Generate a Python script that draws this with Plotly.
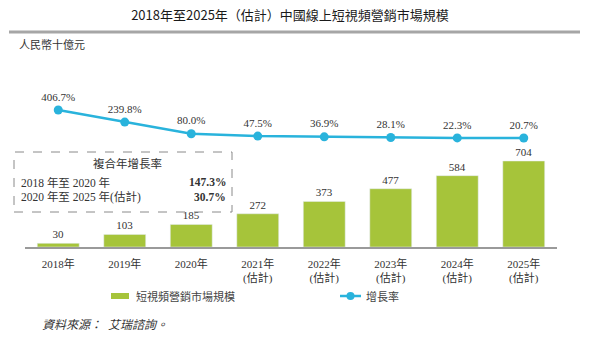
import plotly.graph_objects as go

categories = ["2018年", "2019年", "2020年", "2021年<br>(估計)", "2022年<br>(估計)",
              "2023年<br>(估計)", "2024年<br>(估計)", "2025年<br>(估計)"]
market_size = [30, 103, 185, 272, 373, 477, 584, 704]
growth_rate = [406.7, 239.8, 80.0, 47.5, 36.9, 28.1, 22.3, 20.7]
growth_labels = ["406.7%", "239.8%", "80.0%", "47.5%", "36.9%", "28.1%", "22.3%", "20.7%"]

GREEN = "#a6c43a"
BLUE = "#29b3dc"
TXT = "#333333"
SERIF = "Liberation Serif, Noto Sans CJK TC, serif"
SANS = "Noto Sans CJK TC, Liberation Sans, sans-serif"

W, H = 590, 340
L, R, T, B = 25, 33, 60, 93
PW, PH = W - L - R, H - T - B
def px(x): return (x - L) / PW
def py(y): return (H - B - y) / PH

fig = go.Figure()
fig.add_trace(go.Bar(
    x=categories, y=market_size, marker_color=GREEN, width=0.63,
    text=[str(v) for v in market_size], textposition="outside",
    textfont=dict(family=SERIF, size=11, color=TXT), cliponaxis=False,
    showlegend=False, name="短視頻營銷市場規模"))
fig.add_trace(go.Scatter(
    x=categories, y=growth_rate, yaxis="y2", mode="lines+markers+text",
    line=dict(color=BLUE, width=2.5), marker=dict(color=BLUE, size=9),
    text=growth_labels, textposition="top center",
    textfont=dict(family=SERIF, size=11, color=TXT), cliponaxis=False,
    showlegend=False, name="增長率"))

# scales
bar_top = 704 * PH / 86.0
pct_per_px = 1 / 0.0725
zero_px = 107.5
fig.update_layout(
    width=W, height=H, margin=dict(l=L, r=R, t=T, b=B),
    paper_bgcolor="white", plot_bgcolor="white",
    bargap=0.37,
    xaxis=dict(showgrid=False, showline=True, linecolor="#9a9a9a", linewidth=1.5,
               ticks="", ticklabelstandoff=6,
               tickfont=dict(family=SERIF, size=11, color=TXT)),
    yaxis=dict(range=[0, bar_top], visible=False),
    yaxis2=dict(range=[-zero_px * pct_per_px, (PH - zero_px) * pct_per_px],
                overlaying="y", visible=False),
    title=dict(text="2018年至2025年（估計）中國線上短視頻營銷市場規模",
               x=(290 - L) / PW, xref="paper", xanchor="center", y=1 - 15 / H, yanchor="middle",
               font=dict(family=SANS, size=13, color="#1a1a1a")),
)

shapes = [
    dict(type="line", xref="paper", yref="paper", x0=px(9), x1=px(580), y0=py(32), y1=py(32),
         line=dict(color="#a6a6a6", width=3)),
    dict(type="rect", xref="paper", yref="paper", x0=px(14), x1=px(232), y0=py(212), y1=py(152),
         line=dict(color="#8a8a8a", width=1, dash="dash"), fillcolor="rgba(0,0,0,0)"),
    dict(type="rect", xref="paper", yref="paper", x0=px(111), x1=px(129), y0=py(299), y1=py(293),
         line=dict(width=0), fillcolor=GREEN),
    dict(type="line", xref="paper", yref="paper", x0=px(340), x1=px(361), y0=py(296), y1=py(296),
         line=dict(color=BLUE, width=2.5)),
    dict(type="circle", xref="paper", yref="paper", x0=px(346.5), x1=px(354.5), y0=py(300), y1=py(292),
         line=dict(width=0), fillcolor=BLUE),
]
fig.update_layout(shapes=shapes)

ann = [
    dict(text="人民幣十億元", x=px(17), y=py(45), xanchor="left", yanchor="middle",
         font=dict(family=SERIF, size=11, color=TXT)),
    dict(text="複合年增長率", x=px(127), y=py(163), xanchor="center", yanchor="middle",
         font=dict(family=SERIF, size=11.5, color=TXT)),
    dict(text="2018 年至 2020 年", x=px(19), y=py(182), xanchor="left", yanchor="middle",
         font=dict(family=SERIF, size=11.5, color=TXT)),
    dict(text="2020 年至 2025 年(估計)", x=px(19), y=py(197), xanchor="left", yanchor="middle",
         font=dict(family=SERIF, size=11.5, color=TXT)),
    dict(text="<b>147.3%</b>", x=px(228), y=py(182), xanchor="right", yanchor="middle",
         font=dict(family=SERIF, size=11.5, color=TXT)),
    dict(text="<b>30.7%</b>", x=px(228), y=py(197), xanchor="right", yanchor="middle",
         font=dict(family=SERIF, size=11.5, color=TXT)),
    dict(text="短視頻營銷市場規模", x=px(134), y=py(296), xanchor="left", yanchor="middle",
         font=dict(family=SERIF, size=11, color="#444")),
    dict(text="增長率", x=px(364), y=py(296), xanchor="left", yanchor="middle",
         font=dict(family=SERIF, size=11, color="#444")),
    dict(text="<i>資料來源：  艾瑞諮詢。</i>", x=px(40), y=py(325), xanchor="left", yanchor="middle",
         font=dict(family=SERIF, size=12, color=TXT)),
]
for a in ann:
    a.update(xref="paper", yref="paper", showarrow=False)
fig.update_layout(annotations=ann)

fig.write_html("out.html")
